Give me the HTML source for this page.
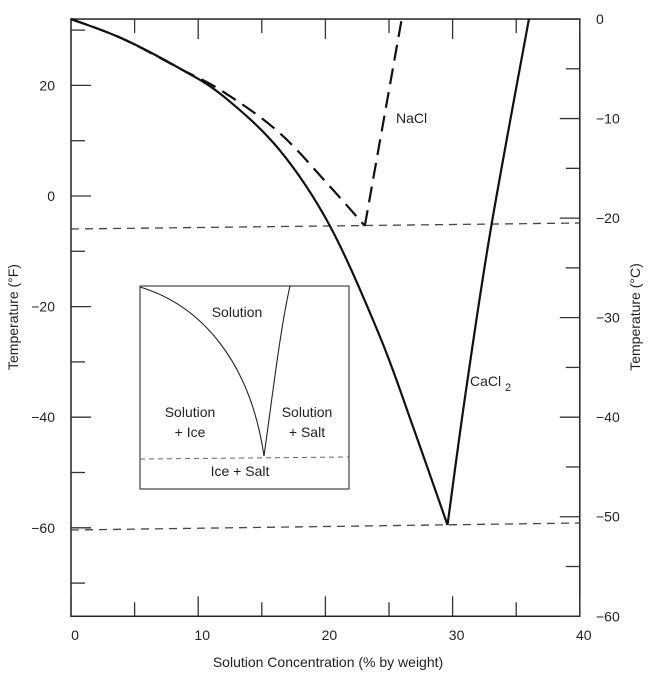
<!DOCTYPE html>
<html><head><meta charset="utf-8"><style>
body{margin:0;background:#fff}
svg text{font-family:"Liberation Sans",sans-serif;fill:#222}
</style></head><body>
<svg width="650" height="671">
<g id="g"></g>
</svg>
<script>
const pctTicks=[0,10,20,30,40];
const fTicks=[20,0,-20,-40,-60];
const cTicks=[0,-10,-20,-30,-40,-50,-60];
const cacl2IceX=[0,4,8.6,12,16.4,20.4,24.3,26.9,29.6];
const cacl2IceF=[32,28.5,23,18,8.3,-5.6,-25.5,-41.8,-59.5];
const cacl2SaltX=[29.6,31,33,36];
const cacl2SaltF=[-59.5,-36,-6,32];
const naclIceX=[0,4,8.6,12,16.4,20.4,23.1];
const naclIceF=[32,28.5,23,18.8,11.4,1.6,-5.4];
const naclSaltX=[23.1,26];
const naclSaltF=[-5.4,32];
const X=p=>71+p*12.72, Y=f=>196-f*5.53, YC=c=>Y(c*1.8+32);
const g=document.getElementById('g');const NS='http://www.w3.org/2000/svg';
function el(t,a,txt){const e=document.createElementNS(NS,t);for(const k in a)e.setAttribute(k,a[k]);if(txt!==undefined)e.textContent=txt;g.appendChild(e);return e;}
let e=el('rect',{x:X(0),y:Y(32),width:X(40)-X(0),height:Y(-76)-Y(32),fill:'none',stroke:'#222','stroke-width':1.5});

for(let p=0;p<=40;p+=5){const L=p%10==0?20:14;
 el('line',{x1:X(p),x2:X(p),y1:Y(-76),y2:Y(-76)-L,stroke:'#333','stroke-width':1.3});
 el('line',{x1:X(p),x2:X(p),y1:Y(32),y2:Y(32)+L,stroke:'#333','stroke-width':1.3});}
pctTicks.forEach(p=>{e=el('text',{x:X(p)+4,y:640,'text-anchor':'middle','font-size':14},p);});
for(let f=30;f>=-70;f-=10){el('line',{x1:X(0),x2:X(0)+(f%20==0?20:14),y1:Y(f),y2:Y(f),stroke:'#333','stroke-width':1.3});}
fTicks.forEach(f=>{e=el('text',{x:55,y:Y(f)+5,'text-anchor':'end','font-size':14},f==0?'0':(f<0?'\u2212'+(-f):f));});
for(let c=0;c>=-60;c-=5){el('line',{x1:X(40),x2:X(40)-(c%10==0?20:14),y1:YC(c),y2:YC(c),stroke:'#333','stroke-width':1.3});}
cTicks.forEach(c=>{e=el('text',{x:596,y:YC(c)+5,'font-size':14},c==0?'0':'\u2212'+(-c));});
e=el('text',{x:328,y:667,'text-anchor':'middle','font-size':14},'Solution Concentration (% by weight)');
e=el('text',{x:18,y:317,'text-anchor':'middle','font-size':14,transform:'rotate(-90 18 317)'},'Temperature (°F)');
e=el('text',{x:640,y:317,'text-anchor':'middle','font-size':14,transform:'rotate(-90 640 317)'},'Temperature (°C)');
e=el('line',{x1:X(0),x2:X(40),y1:229,y2:223,stroke:'#444','stroke-width':1.3,'stroke-dasharray':'8 6'});
e=el('line',{x1:X(0),x2:X(40),y1:530,y2:523,stroke:'#444','stroke-width':1.3,'stroke-dasharray':'8 6'});
function path(xs,fs){let d='';xs.forEach((x,i)=>d+=(i?'L':'M')+X(x).toFixed(1)+','+Y(fs[i]).toFixed(1));return d;}
function smooth(xs,fs){const pts=xs.map((x,i)=>[X(x),Y(fs[i])]);let d='M'+pts[0];for(let i=0;i<pts.length-1;i++){const p0=pts[i-1]||pts[i],p1=pts[i],p2=pts[i+1],p3=pts[i+2]||p2;d+='C'+(p1[0]+(p2[0]-p0[0])/6)+','+(p1[1]+(p2[1]-p0[1])/6)+' '+(p2[0]-(p3[0]-p1[0])/6)+','+(p2[1]-(p3[1]-p1[1])/6)+' '+p2;}return d;}
e=el('path',{d:smooth(naclIceX,naclIceF),fill:'none',stroke:'#111','stroke-width':2.2,'stroke-dasharray':'16 8'});
e=el('path',{d:path(naclSaltX,naclSaltF),fill:'none',stroke:'#111','stroke-width':2.2,'stroke-dasharray':'16 8'});
e=el('path',{d:smooth(cacl2IceX,cacl2IceF),fill:'none',stroke:'#111','stroke-width':2.2});
e=el('path',{d:smooth(cacl2SaltX,cacl2SaltF),fill:'none',stroke:'#111','stroke-width':2.2});
e=el('text',{x:396,y:123,'font-size':14},'NaCl');
e=el('text',{x:470,y:386,'font-size':14},'CaCl');
el('text',{x:505,y:391,'font-size':11},'2');
// inset
e=el('rect',{x:140,y:286,width:209,height:203,fill:'#fff',stroke:'#444','stroke-width':1.2});
el('path',{d:'M140,287 C200,305 250,360 264,456',fill:'none',stroke:'#222','stroke-width':1.1});
el('path',{d:'M264,456 C272,400 280,330 290,286',fill:'none',stroke:'#222','stroke-width':1.1});
el('line',{x1:140,x2:349,y1:459,y2:457,stroke:'#666','stroke-width':1,'stroke-dasharray':'5 4'});
[['Solution',237,317],['Solution',190,417],['+ Ice',190,437],['Solution',307,417],['+ Salt',307,437],['Ice + Salt',240,476]].forEach(t=>{e=el('text',{x:t[1],y:t[2],'text-anchor':'middle','font-size':14},t[0]);});
</script>
</body></html>
